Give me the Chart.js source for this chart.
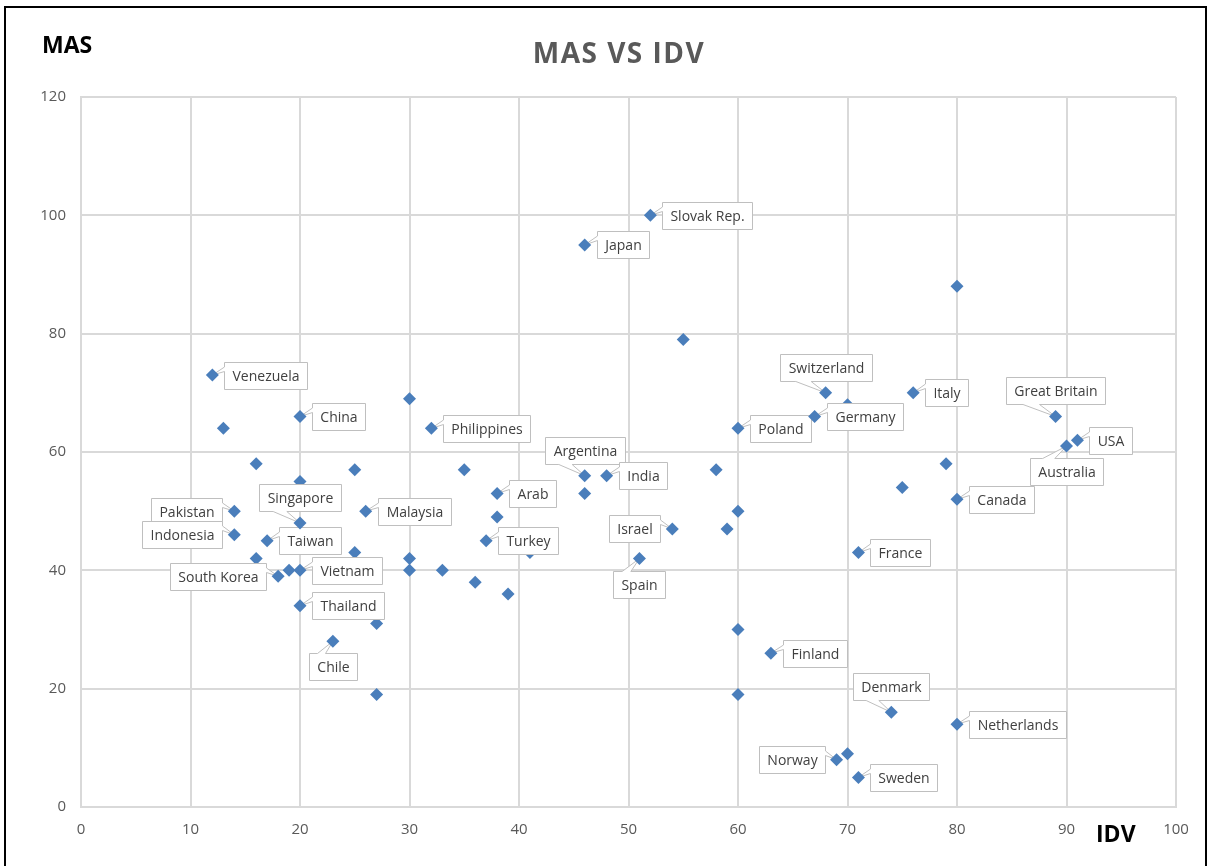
<!DOCTYPE html>
<html>
<head>
<meta charset="utf-8">
<title>MAS VS IDV</title>
<script src="https://cdn.jsdelivr.net/npm/chart.js@4.4.1/dist/chart.umd.min.js"></script>
<style>
  html, body { margin: 0; padding: 0; background: #fff; }
  #wrap { position: relative; width: 1211px; height: 866px; overflow: hidden; }
  #frame { position: absolute; left: 4px; top: 6px; width: 1203px; height: 900px; border: 2px solid #000; box-sizing: border-box; pointer-events: none; }
  canvas { position: absolute; left: 0; top: 0; }
</style>
</head>
<body>
<div id="wrap">
  <canvas id="scatter" width="1211" height="866"></canvas>
  <div id="frame"></div>
</div>
<script>
// labelled countries: IDV (x) and MAS (y)
var countries = ["Venezuela", "China", "Philippines", "Japan", "Slovak Rep.", "Argentina", "India", "Arab",
    "Malaysia", "Pakistan", "Indonesia", "Singapore", "Taiwan", "South Korea", "Vietnam", "Thailand", "Chile",
    "Turkey", "Israel", "Spain", "Poland", "Switzerland", "Germany", "Italy", "Great Britain", "USA", "Australia",
    "Canada", "France", "Finland", "Denmark", "Netherlands", "Norway", "Sweden"];
var countryIdv = [12, 20, 32, 46, 52, 46, 48, 38, 26, 14, 14, 20, 17, 18, 20, 20, 23, 37, 54, 51, 60, 68, 67, 76,
    89, 91, 90, 80, 71, 63, 74, 80, 69, 71];
var countryMas = [73, 66, 64, 95, 100, 56, 56, 53, 50, 50, 46, 48, 45, 39, 40, 34, 28, 45, 47, 42, 64, 70, 66, 70,
    66, 62, 61, 52, 43, 26, 16, 14, 8, 5];

// countries without a label
var otherIdv = [80, 55, 13, 30, 16, 20, 25, 35, 38, 41, 46, 58, 60, 59, 60, 60, 70, 75, 79, 70, 16, 19, 25, 30,
    30, 33, 36, 39, 27, 27, 27];
var otherMas = [88, 79, 64, 69, 58, 55, 57, 57, 49, 43, 53, 57, 50, 47, 30, 19, 68, 54, 58, 9, 42, 40, 43, 42,
    40, 40, 38, 36, 31, 19, 41];

var xTicks = [0, 100, 10];
var yTicks = [0, 120, 20];

// which side of the point each callout sits on
var labelSide = {
    "Venezuela": "r", "China": "r", "Philippines": "r", "Japan": "r", "Slovak Rep.": "r", "Argentina": "u",
    "India": "r", "Arab": "r", "Malaysia": "r", "Pakistan": "l", "Indonesia": "l", "Singapore": "u",
    "Taiwan": "r", "South Korea": "l", "Vietnam": "r", "Thailand": "r", "Chile": "d", "Turkey": "r",
    "Israel": "l", "Spain": "d", "Poland": "r", "Switzerland": "u", "Germany": "r", "Italy": "r",
    "Great Britain": "u", "USA": "r", "Australia": "d", "Canada": "r", "France": "r", "Finland": "r",
    "Denmark": "u", "Netherlands": "r", "Norway": "l", "Sweden": "r"
};

var toPoints = function (xs, ys) {
    return xs.map(function (x, i) { return { x: x, y: ys[i] }; });
};

var blue = "#4a7ebb";
var gridColor = "#d9d9d9";

// callouts are drawn right after the unlabelled points (dataset 1),
// so they cover those but sit below the labelled markers
var calloutPlugin = {
    id: "callouts",
    afterDatasetDraw: function (chart, args) {
        if (args.index !== 1) return;
        var ctx = chart.ctx;
        var xs = chart.scales.x, ys = chart.scales.y;
        ctx.save();
        ctx.font = '14px "Open Sans"';
        ctx.textAlign = "center";
        ctx.textBaseline = "middle";
        countries.forEach(function (name, i) {
            var px = xs.getPixelForValue(countryIdv[i]);
            var py = ys.getPixelForValue(countryMas[i]);
            var side = labelSide[name];
            var w = Math.round(ctx.measureText(name).width) + 16, h = 27, gap = 12;
            var L, T;
            if (side === "r") { L = px + gap; T = py - h / 2; }
            else if (side === "l") { L = px - gap - w; T = py - h / 2; }
            else if (side === "u") { L = px - w / 2; T = py - gap - h; }
            else { L = px - w / 2; T = py + gap; }
            L = Math.round(L) + 0.5; T = Math.round(T) + 0.5;
            var R = L + w, B = T + h;
            var pts;
            if (side === "r") {
                pts = [[L, T], [R, T], [R, B], [L, B], [L, T + h / 3], [px, py], [L, T + h / 6]];
            } else if (side === "l") {
                pts = [[L, T], [R, T], [R, T + h / 6], [px, py], [R, T + h / 3], [R, B], [L, B]];
            } else if (side === "u") {
                pts = [[L, T], [R, T], [R, B], [L + w / 3, B], [px, py], [L + w / 6, B], [L, B]];
            } else {
                pts = [[L, T], [L + w / 6, T], [px, py], [L + w / 3, T], [R, T], [R, B], [L, B]];
            }
            ctx.beginPath();
            ctx.moveTo(pts[0][0], pts[0][1]);
            for (var k = 1; k < pts.length; k++) ctx.lineTo(pts[k][0], pts[k][1]);
            ctx.closePath();
            ctx.fillStyle = "#fff";
            ctx.fill();
            ctx.strokeStyle = "#bfbfbf";
            ctx.lineWidth = 1;
            ctx.stroke();
            ctx.fillStyle = "#404040";
            ctx.fillText(name, L + w / 2, T + h / 2 + 1);
        });
        ctx.restore();
    }
};

// chart title and the two axis names
var titlesPlugin = {
    id: "titles",
    afterDraw: function (chart) {
        var ctx = chart.ctx;
        ctx.save();
        ctx.textBaseline = "alphabetic";
        ctx.fillStyle = "#595959";
        ctx.font = 'bold 28px "Open Sans"';
        ctx.letterSpacing = "1.5px";
        ctx.textAlign = "center";
        ctx.fillText("MAS VS IDV", 619, 63);
        ctx.letterSpacing = "0px";
        ctx.fillStyle = "#000";
        ctx.font = 'bold 23px "Open Sans"';
        ctx.textAlign = "left";
        ctx.fillText("MAS", 42, 53);
        ctx.fillText("IDV", 1096, 842);
        ctx.restore();
    }
};

var scatterChart = new Chart(document.getElementById("scatter"), {
    type: "scatter",
    data: {
        datasets: [
            {
                label: "labelled",
                data: toPoints(countryIdv, countryMas),
                pointStyle: "rectRot",
                pointRadius: 6.5,
                pointBackgroundColor: blue,
                pointBorderWidth: 0
            },
            {
                label: "others",
                data: toPoints(otherIdv, otherMas),
                pointStyle: "rectRot",
                pointRadius: 6.5,
                pointBackgroundColor: blue,
                pointBorderWidth: 0
            }
        ]
    },
    options: {
        responsive: false,
        animation: false,
        layout: { padding: { top: 97, right: 35, left: 0, bottom: 0 } },
        plugins: {
            legend: { display: false },
            tooltip: { enabled: false },
            title: { display: false }
        },
        scales: {
            x: {
                type: "linear",
                min: xTicks[0],
                max: xTicks[1],
                afterFit: function (s) { s.height = 59; },
                ticks: {
                    stepSize: xTicks[2],
                    color: "#595959",
                    padding: 14,
                    font: { family: "Open Sans", size: 15 }
                },
                grid: { color: gridColor, lineWidth: 2, drawTicks: false },
                border: { color: gridColor, width: 2 }
            },
            y: {
                type: "linear",
                min: yTicks[0],
                max: yTicks[1],
                afterFit: function (s) { s.width = 81; },
                ticks: {
                    stepSize: yTicks[2],
                    color: "#595959",
                    padding: 15,
                    font: { family: "Open Sans", size: 15 }
                },
                grid: { color: gridColor, lineWidth: 2, drawTicks: false },
                border: { color: gridColor, width: 2 }
            }
        }
    },
    plugins: [calloutPlugin, titlesPlugin]
});
</script>
</body>
</html>
